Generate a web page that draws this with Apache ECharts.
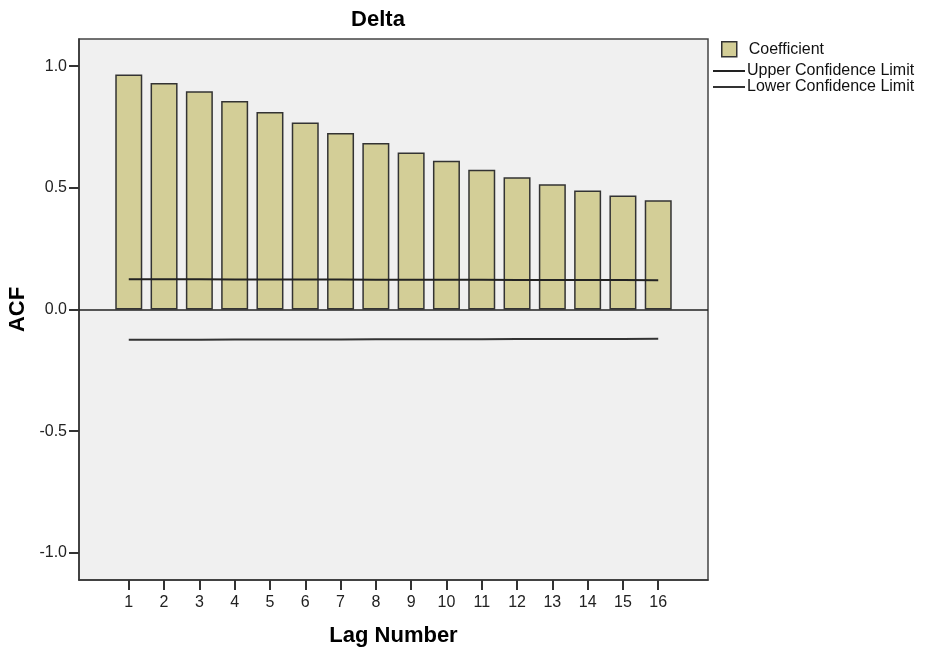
<!DOCTYPE html>
<html>
<head>
<meta charset="utf-8">
<script src="https://cdn.jsdelivr.net/npm/echarts@6/dist/echarts.min.js"></script>
<style>
  html, body { margin: 0; padding: 0; background: #ffffff; }
  #chart { width: 932px; height: 650px; }
</style>
</head>
<body>
<div id="chart"></div>
<script>
// Autocorrelation of Delta, lags 1..16
var lags = [1, 2, 3, 4, 5, 6, 7, 8, 9, 10, 11, 12, 13, 14, 15, 16];
var coefficient = [0.966, 0.931, 0.897, 0.857, 0.812, 0.769, 0.726, 0.684,
                   0.645, 0.611, 0.575, 0.544, 0.515, 0.489, 0.469, 0.449];
var upperLimit = [0.124, 0.124, 0.124, 0.123, 0.123, 0.123, 0.123, 0.122,
                  0.122, 0.122, 0.122, 0.121, 0.121, 0.121, 0.121, 0.120];
var lowerLimit = [-0.124, -0.124, -0.124, -0.123, -0.123, -0.123, -0.123, -0.122,
                  -0.122, -0.122, -0.122, -0.121, -0.121, -0.121, -0.121, -0.120];
var yTicks = [-1, -0.5, 0, 0.5, 1];

function pairs(vals) {
  return lags.map(function (l, i) { return [l, vals[i]]; });
}

var FONT = "'Liberation Sans', Arial, sans-serif";
var LINE_ICON = 'path://M0,0H32V2H0Z';
var chart = echarts.init(document.getElementById('chart'), null, { renderer: 'canvas' });

chart.setOption({
  backgroundColor: '#ffffff',
  animation: false,
  textStyle: { fontFamily: FONT },
  title: {
    text: 'Delta',
    left: 373,
    top: 4,
    textAlign: 'center',
    textStyle: { fontFamily: FONT, fontWeight: 'bold', fontSize: 22, color: '#000' }
  },
  legend: [
    {
      data: ['Coefficient'],
      left: 721, top: 41, padding: 0,
      icon: 'rect',
      itemWidth: 15, itemHeight: 15,
      itemStyle: { borderColor: '#333', borderWidth: 1.5 },
      textStyle: { fontFamily: FONT, fontSize: 16, color: '#111', padding: [0, 0, 0, 7] }
    },
    {
      data: ['Upper Confidence Limit'],
      left: 713, top: 63, padding: 0,
      icon: LINE_ICON,
      itemWidth: 32, itemHeight: 2,
      textStyle: { fontFamily: FONT, fontSize: 16, color: '#111', padding: [0, 0, 0, -3] }
    },
    {
      data: ['Lower Confidence Limit'],
      left: 713, top: 79, padding: 0,
      icon: LINE_ICON,
      itemWidth: 32, itemHeight: 2,
      textStyle: { fontFamily: FONT, fontSize: 16, color: '#111', padding: [0, 0, 0, -3] }
    }
  ],
  grid: {
    left: 79, top: 39, width: 629, height: 541,
    outerBoundsMode: 'none',
    containLabel: false,
    show: true,
    backgroundColor: '#f0f0f0',
    borderColor: '#444',
    borderWidth: 1.5
  },
  xAxis: {
    type: 'value',
    min: -0.41, max: 17.41,
    name: 'Lag Number',
    nameLocation: 'middle',
    nameGap: 45,
    nameTextStyle: { fontFamily: FONT, fontWeight: 'bold', fontSize: 22, color: '#000' },
    axisLine: { show: true, onZero: false, lineStyle: { color: '#333', width: 1.5 } },
    axisTick: { show: true, length: 10, customValues: lags, lineStyle: { color: '#333', width: 2 } },
    axisLabel: { customValues: lags, fontSize: 16, color: '#222', margin: 15 },
    splitLine: { show: false }
  },
  yAxis: {
    type: 'value',
    min: -1.112, max: 1.112,
    name: 'ACF',
    nameLocation: 'middle',
    nameRotate: 90,
    nameGap: 46,
    nameTextStyle: { fontFamily: FONT, fontWeight: 'bold', fontSize: 22, color: '#000' },
    axisLine: { show: true, onZero: false, lineStyle: { color: '#333', width: 1.5 } },
    axisTick: { show: true, length: 10, customValues: yTicks, lineStyle: { color: '#333', width: 2 } },
    axisLabel: {
      customValues: yTicks, fontSize: 16, color: '#222', margin: 12,
      formatter: function (v) { return v.toFixed(1); }
    },
    splitLine: { show: false }
  },
  series: [
    {
      name: 'Coefficient',
      type: 'bar',
      data: pairs(coefficient),
      barWidth: 27,
      itemStyle: { color: '#d3ce97', borderColor: '#333', borderWidth: 1.5 },
      markLine: {
        silent: true,
        symbol: 'none',
        label: { show: false },
        lineStyle: { color: '#222', width: 1.5, type: 'solid' },
        data: [{ yAxis: 0 }]
      },
      z: 2
    },
    {
      name: 'Upper Confidence Limit',
      type: 'line',
      data: pairs(upperLimit),
      symbol: 'none',
      lineStyle: { color: '#222', width: 2 },
      itemStyle: { color: '#222' },
      z: 3
    },
    {
      name: 'Lower Confidence Limit',
      type: 'line',
      data: pairs(lowerLimit),
      symbol: 'none',
      lineStyle: { color: '#333', width: 2 },
      itemStyle: { color: '#333' },
      z: 3
    }
  ]
});
</script>
</body>
</html>
